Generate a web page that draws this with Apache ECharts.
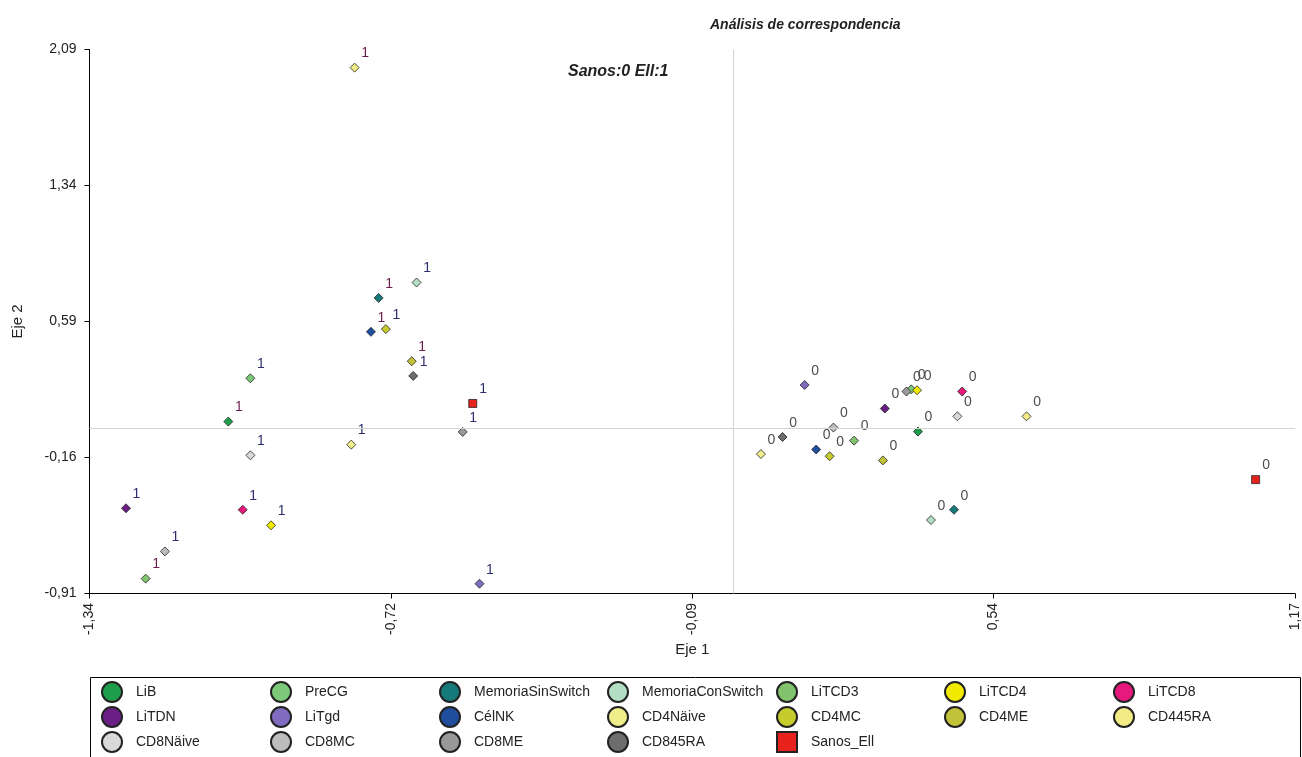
<!DOCTYPE html>
<html>
<head>
<meta charset="utf-8">
<script src="https://cdn.jsdelivr.net/npm/echarts@6/dist/echarts.min.js"></script>
<style>
html,body{margin:0;padding:0;background:#fff;}
#chart{width:1302px;height:757px;}
</style>
</head>
<body>
<div id="chart"></div>
<script>
// ---- data ----
const categories = ['LiB','PreCG','MemoriaSinSwitch','MemoriaConSwitch','LiTCD3','LiTCD4','LiTCD8',
  'LiTDN','LiTgd','CélNK','CD4Näive','CD4MC','CD4ME','CD445RA',
  'CD8Näive','CD8MC','CD8ME','CD845RA','Sanos_Ell'];
// Ell (label "1") coordinates
const ellX = [-1.051,-1.005,-0.738,-0.659,-1.223,-0.962,-1.021,-1.264,-0.528,-0.754,-0.795,-0.723,-0.669,-0.788,-1.005,-1.183,-0.563,-0.666,-0.542];
const ellY = [0.038,0.277,0.720,0.805,-0.828,-0.534,-0.448,-0.440,-0.856,0.533,-0.089,0.548,0.371,1.990,-0.148,-0.678,-0.019,0.290,0.138];
// Sanos (label "0") coordinates
const sanosX = [0.385,0.371,0.460,0.412,0.252,0.383,0.477,0.316,0.149,0.173,0.058,0.201,0.312,0.611,0.467,0.209,0.361,0.103,1.088];
const sanosY = [-0.017,0.216,-0.448,-0.505,-0.067,0.211,0.204,0.110,0.240,-0.116,-0.141,-0.153,-0.176,0.067,0.067,0.005,0.204,-0.047,-0.282];
const ellLabel = '1';
const sanosLabel = '0';
const xTickLabels = ['-1,34','-0,72','-0,09','0,54','1,17'];
const yTickLabels = ['-0,91','-0,16','0,59','1,34','2,09'];
const xRange = [-1.34, 1.17];
const yRange = [-0.91, 2.09];

// ---- styles ----
const colors = ['#1e9e4a','#7cc97a','#177a7a','#b2dfc4','#82c46e','#f2ea00','#e8197c',
  '#6b1f86','#7f6bbf','#1f4e9e','#f0ee8a','#c6cc2c','#c2c238','#f3ec86',
  '#d9d9d9','#bdbdbd','#999999','#6d6d6d','#e8231e'];
const ellLabelColors = ['#6a1f4e','#2e2e6e','#6a1f4e','#2e2e6e','#6a1f4e','#2e2e6e','#2e2e6e',
  '#2e2e6e','#2e2e6e','#6a1f4e','#2e2e6e','#2e2e6e','#6a1f4e','#6a1f4e',
  '#2e2e6e','#2e2e6e','#2e2e6e','#2e2e6e','#2e2e6e'];
const FONT = 'Liberation Sans, Arial, sans-serif';

const chart = echarts.init(document.getElementById('chart'), null, {renderer:'canvas'});

const series = categories.map((name, i) => {
  const isSq = name === 'Sanos_Ell';
  return {
    name: name,
    type: 'scatter',
    xAxisIndex: 0, yAxisIndex: 0,
    symbol: isSq ? 'rect' : 'diamond',
    symbolSize: isSq ? 8 : 9,
    itemStyle: {color: colors[i], borderColor: '#222', borderWidth: 0.8, opacity: 1},
    data: [
      {value: [ellX[i], ellY[i]], label: {formatter: ellLabel, color: ellLabelColors[i]}},
      {value: [sanosX[i], sanosY[i]], label: {formatter: sanosLabel, color: '#4d4d4d'}}
    ],
    label: {show: true, position: 'inside', offset: [10.5, -14], fontSize: 14, fontFamily: FONT},
    emphasis: {disabled: true},
    z: 3
  };
});
series.unshift({
  name: 'zeroLines', type: 'scatter', xAxisIndex: 0, yAxisIndex: 0, data: [], z: 1,
  markLine: {
    silent: true, symbol: 'none', animation: false,
    label: {show: false},
    lineStyle: {color: '#d4d4d4', width: 1, type: 'solid'},
    data: [{xAxis: 0}, {yAxis: 0}]
  }
});

const legendCols = [111, 280, 449, 617, 786, 954, 1123];
const legends = legendCols.map((cx, c) => {
  const items = [];
  for (let r = 0; r < 3; r++) {
    const n = categories[c + r * 7];
    if (n) items.push(n === 'Sanos_Ell' ? {name: n, icon: 'rect'} : {name: n, icon: 'circle'});
  }
  return {
    orient: 'vertical', left: cx - 10, top: 681, padding: 0,
    itemWidth: 20, itemHeight: 20, itemGap: 3, height: 80,
    symbolKeepAspect: false,
    selectedMode: false,
    data: items,
    textStyle: {fontSize: 14, lineHeight: 20, color: '#222', fontFamily: FONT, padding: [0, 0, 0, 9]}
  };
});

const option = {
  animation: false,
  backgroundColor: '#fff',
  title: [
    {text: 'Análisis de correspondencia', left: 705, top: 13,
     textStyle: {fontSize: 14, fontWeight: 'bold', fontStyle: 'italic', color: '#222', fontFamily: FONT}},
    {text: 'Sanos:0 Ell:1', left: 563, top: 59,
     textStyle: {fontSize: 16, fontWeight: 'bold', fontStyle: 'italic', color: '#222', fontFamily: FONT}}
  ],
  grid: {left: 89.5, right: 6, top: 49.5, bottom: 163.5, containLabel: false},
  xAxis: [
    {type: 'value', min: xRange[0], max: xRange[1], show: false, splitLine: {show: false}},
    {type: 'value', min: 0, max: 4, interval: 1, position: 'bottom', offset: 0.5,
     name: 'Eje 1', nameLocation: 'middle', nameGap: 46,
     nameTextStyle: {fontSize: 15, color: '#222', fontFamily: FONT},
     axisLine: {show: true, lineStyle: {color: '#000', width: 1}},
     axisTick: {show: true, length: 5, lineStyle: {color: '#000'}},
     axisLabel: {rotate: 90, margin: 9, fontSize: 14, color: '#222', fontFamily: FONT,
                 formatter: v => xTickLabels[Math.round(v)]},
     splitLine: {show: false}}
  ],
  yAxis: [
    {type: 'value', min: yRange[0], max: yRange[1], show: false, splitLine: {show: false}},
    {type: 'value', min: 0, max: 4, interval: 1, position: 'left', offset: 8,
     name: 'Eje 2', nameLocation: 'middle', nameGap: 56, nameRotate: 90,
     nameTextStyle: {fontSize: 15, color: '#222', fontFamily: FONT},
     axisLine: {show: true, lineStyle: {color: '#000', width: 1}},
     axisTick: {show: true, length: 5, lineStyle: {color: '#000'}},
     axisLabel: {margin: 5, fontSize: 14, color: '#222', fontFamily: FONT,
                 formatter: v => yTickLabels[Math.round(v)]},
     splitLine: {show: false}}
  ],
  legend: legends,
  graphic: [
    {type: 'rect', silent: true, z: 0,
     shape: {x: 90.5, y: 677.5, width: 1210, height: 100},
     style: {fill: 'none', stroke: '#000', lineWidth: 1}}
  ],
  series: series
};
chart.setOption(option);
</script>
</body>
</html>
